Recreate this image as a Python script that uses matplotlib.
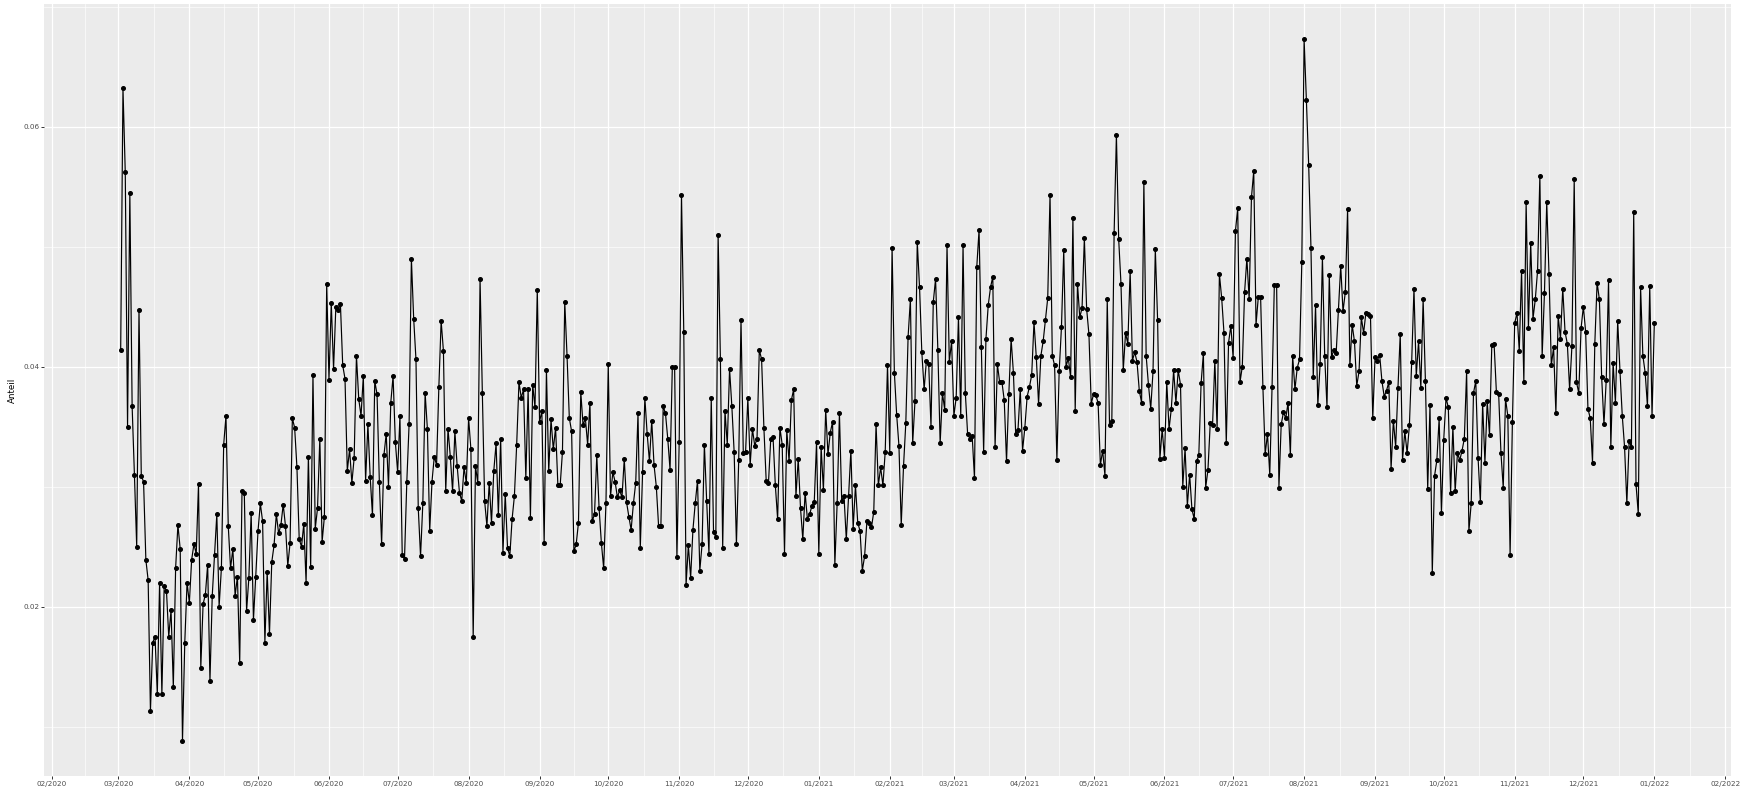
import numpy as np
import pandas as pd
import matplotlib
matplotlib.use('Agg')
from matplotlib import pyplot as plt
import matplotlib.dates as mdates

# daily share ("Anteil"), starting 2020-03-02
start_date = '2020-03-02'

anteil_2020 = [
    0.0414, 0.0632, 0.0562, 0.0350, 0.0545, 0.0367, 0.0310, 0.0250, 0.0447, 0.0309,
    0.0304, 0.0239, 0.0222, 0.0113, 0.0170, 0.0175, 0.0127, 0.0220, 0.0127, 0.0217,
    0.0213, 0.0175, 0.0197, 0.0133, 0.0232, 0.0268, 0.0248, 0.0088, 0.0170, 0.0220,
    0.0203, 0.0239, 0.0252, 0.0244, 0.0302, 0.0149, 0.0202, 0.0210, 0.0235, 0.0138,
    0.0209, 0.0243, 0.0277, 0.0200, 0.0232, 0.0335, 0.0359, 0.0267, 0.0232, 0.0248,
    0.0209, 0.0225, 0.0153, 0.0296, 0.0295, 0.0196, 0.0224, 0.0278, 0.0189, 0.0225,
    0.0263, 0.0286, 0.0271, 0.0170, 0.0229, 0.0177,
    0.0237, 0.0251, 0.0277, 0.0261, 0.0268, 0.0285, 0.0267, 0.0234, 0.0253, 0.0357,
    0.0349, 0.0316, 0.0256, 0.0250, 0.0269, 0.0220, 0.0325, 0.0233, 0.0393, 0.0265,
    0.0282, 0.0340, 0.0254, 0.0275, 0.0469, 0.0389, 0.0453, 0.0398, 0.0450, 0.0447,
    0.0452, 0.0401, 0.0390, 0.0313, 0.0331, 0.0303, 0.0324, 0.0409, 0.0373, 0.0359,
    0.0392, 0.0305, 0.0352, 0.0308, 0.0276, 0.0388, 0.0377, 0.0304, 0.0252, 0.0326,
    0.0344, 0.0300, 0.0370, 0.0392, 0.0337, 0.0312, 0.0359, 0.0243, 0.0240, 0.0304,
    0.0352, 0.0490, 0.0440, 0.0406, 0.0282, 0.0242, 0.0286, 0.0378, 0.0348, 0.0263,
    0.0304, 0.0325, 0.0318, 0.0383, 0.0438, 0.0413, 0.0296, 0.0348, 0.0325, 0.0296,
    0.0346, 0.0317, 0.0295, 0.0288, 0.0316, 0.0303, 0.0357, 0.0331, 0.0175, 0.0317,
    0.0303, 0.0473, 0.0378, 0.0288, 0.0267, 0.0303, 0.0270, 0.0313, 0.0336, 0.0276,
    0.0340, 0.0245, 0.0294, 0.0249, 0.0242, 0.0273, 0.0292, 0.0335, 0.0387, 0.0374,
    0.0381, 0.0307, 0.0381, 0.0274, 0.0385, 0.0366, 0.0464, 0.0354, 0.0363, 0.0253,
    0.0397, 0.0313, 0.0356, 0.0331, 0.0349, 0.0301, 0.0301, 0.0329, 0.0454, 0.0409,
    0.0357, 0.0346, 0.0246, 0.0252, 0.0270, 0.0379, 0.0351, 0.0357, 0.0335, 0.0370,
    0.0271, 0.0277, 0.0326, 0.0282, 0.0253, 0.0232, 0.0286, 0.0402, 0.0292, 0.0312,
    0.0304, 0.0291, 0.0297, 0.0291, 0.0323, 0.0287, 0.0275, 0.0264, 0.0286, 0.0303,
    0.0361, 0.0249, 0.0312, 0.0374, 0.0344, 0.0321, 0.0355, 0.0318, 0.0300, 0.0267,
    0.0267, 0.0367, 0.0361, 0.0340, 0.0314, 0.0400, 0.0400, 0.0241, 0.0337, 0.0543,
    0.0429, 0.0218, 0.0251, 0.0224, 0.0264, 0.0286, 0.0305, 0.0230, 0.0252, 0.0335,
    0.0288, 0.0244, 0.0374, 0.0262, 0.0258, 0.0510, 0.0406, 0.0249, 0.0363, 0.0335,
    0.0398, 0.0367, 0.0329, 0.0252, 0.0322, 0.0439, 0.0328, 0.0329, 0.0374, 0.0318,
    0.0348, 0.0334, 0.0340, 0.0414, 0.0406, 0.0349, 0.0305, 0.0303, 0.0340, 0.0341,
    0.0301, 0.0273, 0.0349, 0.0335, 0.0244, 0.0347, 0.0321, 0.0372, 0.0381, 0.0292,
    0.0323, 0.0282, 0.0256, 0.0295, 0.0273, 0.0277, 0.0284, 0.0287, 0.0337,
]

anteil_2021 = [
    0.0244, 0.0333, 0.0297, 0.0364, 0.0327, 0.0345, 0.0354, 0.0235, 0.0286, 0.0361,
    0.0288, 0.0292, 0.0256, 0.0292, 0.0330, 0.0265, 0.0301, 0.0270, 0.0263, 0.0230,
    0.0242, 0.0271, 0.0270, 0.0266, 0.0279, 0.0352, 0.0301, 0.0316, 0.0301, 0.0329,
    0.0401, 0.0328, 0.0499, 0.0395, 0.0360, 0.0334, 0.0268, 0.0317, 0.0353, 0.0425,
    0.0456,
    0.0336, 0.0371, 0.0504, 0.0466, 0.0412, 0.0381, 0.0405, 0.0402, 0.0350, 0.0454,
    0.0473, 0.0414, 0.0336, 0.0378, 0.0364, 0.0501, 0.0404, 0.0421, 0.0359, 0.0374,
    0.0441, 0.0359, 0.0501, 0.0378, 0.0344, 0.0340, 0.0342, 0.0307, 0.0483, 0.0514,
    0.0416, 0.0329, 0.0423, 0.0451, 0.0466, 0.0475, 0.0333, 0.0402, 0.0387, 0.0387,
    0.0372, 0.0321, 0.0377, 0.0423, 0.0395, 0.0344, 0.0347, 0.0381, 0.0330, 0.0349,
    0.0375, 0.0383, 0.0393, 0.0437, 0.0408, 0.0369, 0.0409, 0.0421, 0.0439, 0.0457,
    0.0543, 0.0409, 0.0401, 0.0322, 0.0396, 0.0433, 0.0497, 0.0400, 0.0407, 0.0391,
    0.0524, 0.0363, 0.0469, 0.0441, 0.0449, 0.0507, 0.0448, 0.0427, 0.0369, 0.0377,
    0.0376, 0.0370, 0.0318, 0.0330, 0.0309, 0.0456, 0.0351, 0.0355, 0.0511, 0.0593,
    0.0506, 0.0469, 0.0397, 0.0428, 0.0419, 0.0480, 0.0405, 0.0412, 0.0404, 0.0380,
    0.0370, 0.0554, 0.0409, 0.0385, 0.0365, 0.0396, 0.0498, 0.0439, 0.0323, 0.0348,
    0.0324, 0.0387, 0.0348, 0.0365, 0.0397, 0.0370, 0.0397, 0.0385, 0.0300, 0.0332,
    0.0284, 0.0310, 0.0281, 0.0273, 0.0321, 0.0326, 0.0386, 0.0411, 0.0299, 0.0314,
    0.0353, 0.0351, 0.0405, 0.0348, 0.0477, 0.0457, 0.0428, 0.0336, 0.0420, 0.0434,
    0.0407, 0.0513, 0.0532, 0.0387, 0.0400, 0.0462, 0.0490, 0.0456, 0.0541, 0.0563,
    0.0435, 0.0458, 0.0458, 0.0383, 0.0327, 0.0344, 0.0310, 0.0383, 0.0468, 0.0468,
    0.0299, 0.0352, 0.0362, 0.0357, 0.0370, 0.0326, 0.0409, 0.0381, 0.0399, 0.0406,
    0.0487, 0.0673, 0.0622, 0.0568, 0.0499, 0.0391, 0.0451, 0.0368, 0.0402, 0.0491,
    0.0409, 0.0366, 0.0476, 0.0408, 0.0414, 0.0411, 0.0447, 0.0484, 0.0446, 0.0462,
    0.0531, 0.0401, 0.0435, 0.0421, 0.0384, 0.0396, 0.0441, 0.0428, 0.0445, 0.0444,
    0.0442, 0.0357, 0.0408, 0.0405, 0.0410, 0.0388, 0.0375, 0.0380, 0.0387, 0.0315,
    0.0355, 0.0333, 0.0382, 0.0427, 0.0322, 0.0346, 0.0328, 0.0351, 0.0404, 0.0465,
    0.0392, 0.0421, 0.0382, 0.0456, 0.0388, 0.0298, 0.0368, 0.0228, 0.0309, 0.0322,
    0.0357, 0.0278, 0.0339, 0.0374, 0.0366, 0.0295, 0.0350, 0.0296, 0.0328, 0.0322,
    0.0330, 0.0340, 0.0396, 0.0263, 0.0286, 0.0378, 0.0388, 0.0324, 0.0287, 0.0369,
    0.0320, 0.0371, 0.0343, 0.0418, 0.0419, 0.0379, 0.0377, 0.0328, 0.0299, 0.0373,
    0.0359, 0.0243, 0.0354, 0.0436, 0.0445, 0.0413, 0.0480, 0.0387, 0.0537, 0.0432,
    0.0503, 0.0440, 0.0456, 0.0480, 0.0559, 0.0409, 0.0461, 0.0537, 0.0477, 0.0401,
    0.0416, 0.0361, 0.0442, 0.0423, 0.0465, 0.0429, 0.0419, 0.0381, 0.0417, 0.0556,
    0.0387, 0.0378, 0.0432, 0.0450, 0.0429, 0.0365, 0.0357, 0.0320, 0.0419, 0.0470,
    0.0456, 0.0391, 0.0352, 0.0389, 0.0472, 0.0333, 0.0403, 0.0370, 0.0438, 0.0396,
    0.0359, 0.0333, 0.0286, 0.0338, 0.0333, 0.0529, 0.0302, 0.0277, 0.0466, 0.0409,
    0.0395, 0.0367, 0.0467, 0.0359,
]

anteil_2022 = [0.0436]

y_breaks = [0.02, 0.04, 0.06]
y_labels = ['0.02', '0.04', '0.06']

values = np.array(anteil_2020 + anteil_2021 + anteil_2022)
dates = pd.date_range(start_date, periods=len(values), freq='D')

W, H = 1745, 794
fig = plt.figure(figsize=(W / 100, H / 100), dpi=100)
fig.patch.set_facecolor('white')

# panel placement in pixels (ggplot-like layout)
left, right, top, bottom = 44, 1731, 4, 776
ax = fig.add_axes([left / W, 1 - bottom / H, (right - left) / W, (bottom - top) / H])
ax.set_facecolor('#EBEBEB')
for s in ax.spines.values():
    s.set_visible(False)

# ggplot default expansion of 5 %
x0 = mdates.date2num(dates[0])
x1 = mdates.date2num(dates[-1])
dx = (x1 - x0) * 0.05
ax.set_xlim(x0 - dx, x1 + dx)
ymin, ymax = values.min(), values.max()
dy = (ymax - ymin) * 0.05
ax.set_ylim(ymin - dy, ymax + dy)

# monthly major breaks, minor breaks half way between
months = pd.date_range('2020-01-01', '2022-03-01', freq='MS')
mnum = mdates.date2num(months)
lo, hi = ax.get_xlim()
major_x = [m for m in mnum if lo <= m <= hi]
minor_x = [(a + b) / 2 for a, b in zip(mnum[:-1], mnum[1:]) if lo <= (a + b) / 2 <= hi]
ax.set_xticks(major_x)
ax.set_xticklabels([mdates.num2date(m).strftime('%m/%Y') for m in major_x])
ax.set_xticks(minor_x, minor=True)

ax.set_yticks(y_breaks)
ax.set_yticklabels(y_labels)
ax.set_yticks([0.01, 0.03, 0.05, 0.07], minor=True)

ax.grid(which='major', color='white', linewidth=0.9)
ax.grid(which='minor', color='white', linewidth=0.45)
ax.set_axisbelow(True)

ax.tick_params(which='major', length=2.0, width=0.7, color='#333333',
               labelsize=5.2, labelcolor='#4D4D4D', pad=1.5)
ax.tick_params(which='minor', length=0)

ax.plot(dates, values, color='black', linewidth=0.85, zorder=3)
ax.plot(dates, values, linestyle='none', marker='o', markersize=2.6,
        color='black', zorder=4)

fig.text(12 / W, 1 - (top + bottom) / 2 / H, 'Anteil', rotation=90,
         ha='center', va='center', fontsize=6.3, color='black')

fig.savefig('out.png', dpi=100)
